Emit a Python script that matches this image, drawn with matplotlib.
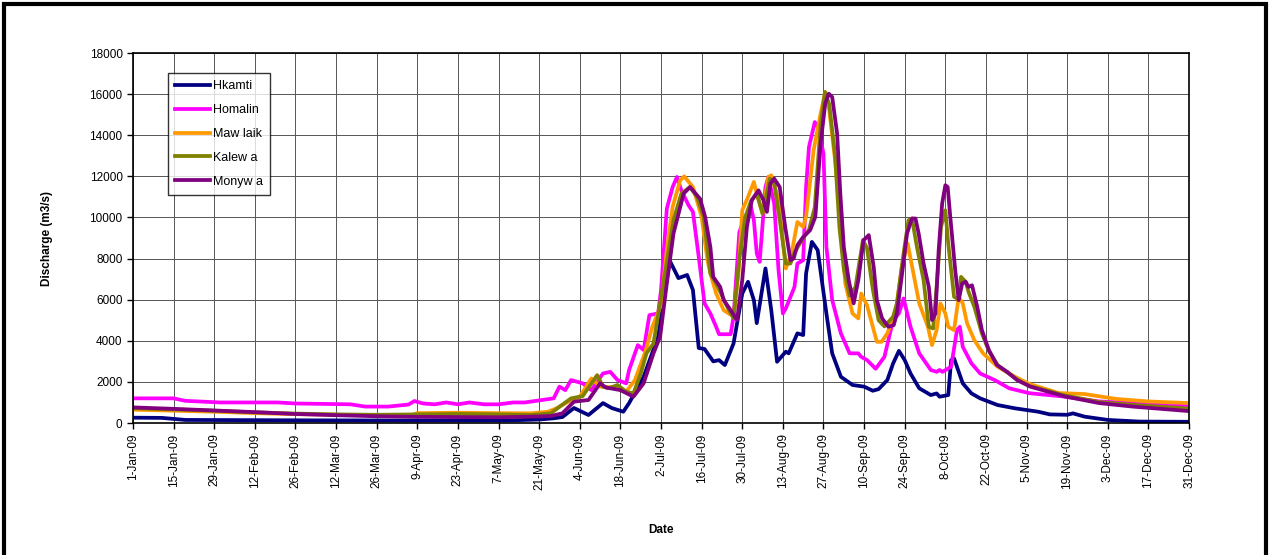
import pandas as pd
import matplotlib
matplotlib.use("Agg")
import matplotlib.pyplot as plt
from matplotlib.patches import Rectangle

plt.rcParams["font.family"] = ["Liberation Sans", "DejaVu Sans"]

# day of year (0 = 1-Jan-09) and discharge (m3/s)
hkamti_day = [0, 10, 18, 60, 100, 130, 140, 145, 148, 152, 157, 162, 165, 169, 171, 176, 181, 185, 188, 191, 193,
              195, 197, 200, 202, 204, 207, 210, 212, 214, 215, 218, 220, 222, 225, 226, 229, 231, 232, 234, 236,
              239, 241, 244, 248, 252, 255, 257, 260, 262, 264, 266, 268, 271, 275, 277, 278, 281, 282, 283, 286,
              289, 292, 298, 304, 312, 316, 322, 324, 328, 336, 347, 364]
hkamti_q = [260, 250, 150, 130, 120, 130, 170, 230, 290, 730, 390, 970, 730, 550, 970, 2250, 4200, 7900, 7050, 7200,
            6470, 3650, 3600, 3000, 3060, 2820, 3870, 6300, 6870, 5980, 4860, 7520, 5490, 2980, 3470, 3390, 4360,
            4280, 7280, 8810, 8410, 5330, 3390, 2250, 1850, 1770, 1570, 1650, 2090, 2900, 3510, 3060, 2410, 1690,
            1360, 1440, 1280, 1360, 3060, 3140, 1930, 1440, 1200, 875, 715, 550, 420, 400, 470, 310, 150, 70, 60]

homalin_day = [0, 14, 18, 30, 50, 56, 75, 80, 88, 95, 97, 100, 104, 108, 112, 116, 121, 126, 131, 135, 141, 145,
               147, 149, 151, 155, 158, 162, 164.5, 167, 170, 171, 174, 176, 178, 181, 182, 184, 186, 187.5, 189,
               191.5, 193, 195, 197, 199, 201, 202, 206, 207, 209, 211, 213, 214, 215, 216, 218, 219, 221, 222.5,
               224, 225, 228, 229, 231, 232, 233, 235, 236, 238, 239, 241, 244, 247, 250, 251, 253, 256, 259, 262,
               264, 265.6, 268, 271, 275, 277, 278, 279, 282, 284, 285, 286, 289, 292, 297, 302, 309, 320, 333,
               345, 364]
homalin_q = [1200, 1200, 1080, 1000, 1000, 950, 910, 800, 800, 900, 1070, 950, 910, 1000, 910, 1000, 910, 910, 1000,
             1000, 1120, 1200, 1770, 1600, 2090, 1930, 1600, 2410, 2490, 2090, 1930, 2580, 3790, 3550, 5250, 5330,
             6470, 10430, 11480, 11970, 11320, 10590, 10270, 8080, 5820, 5330, 4680, 4320, 4320, 5170, 9300, 10030,
             10510, 9870, 8250, 7840, 11480, 11970, 10680, 7440, 5330, 5570, 6620, 7760, 7920, 11480, 13430, 14640,
             14400, 13110, 8570, 5980, 4360, 3390, 3390, 3220, 3060, 2640, 3220, 5010, 5330, 6060, 4680, 3390, 2580,
             2490, 2580, 2490, 2740, 4520, 4680, 3710, 2900, 2410, 2090, 1690, 1450, 1300, 1050, 970, 850]

mawlaik_day = [0, 14, 28, 42, 56, 70, 84, 96, 98, 112, 126, 137, 143, 146, 150, 154, 158, 161, 166, 170, 173,
               176.6, 179, 182, 184, 186, 188.6, 190, 193, 196, 198, 199, 201, 203.6, 207, 208.7, 210, 212, 214,
               215, 217, 219, 220, 222.5, 225, 227, 229, 231, 232, 234.6, 237, 238.6, 240, 242, 244, 245.5, 248,
               250, 251, 253, 255, 256.4, 258, 260, 263, 265, 267, 269, 271, 274, 275.4, 277, 278.3, 280, 281, 283,
               284.6, 286, 287.5, 290, 293, 298, 304, 309, 319, 328, 339, 350, 364]
mawlaik_q = [650, 600, 550, 480, 430, 400, 380, 380, 480, 500, 480, 470, 550, 715, 1040, 1280, 2170, 1770, 1730,
             1520, 2090, 3470, 4680, 5730, 8410, 10510, 11810, 12000, 11480, 10030, 7920, 7280, 6300, 5490, 5170,
             7280, 10350, 11000, 11730, 11160, 10190, 11970, 12050, 10840, 7520, 8250, 9780, 9540, 10030, 13270,
             15050, 16100, 15210, 12780, 9540, 6790, 5330, 5090, 6300, 5730, 4680, 3950, 3950, 4360, 5490, 7600,
             8730, 7280, 5820, 4680, 3790, 4520, 5820, 5330, 4680, 4520, 6140, 5820, 4850, 4030, 3390, 2740, 2250,
             1900, 1460, 1410, 1170, 1050, 970]

kalewa_day = [0, 14, 28, 42, 56, 70, 84, 98, 112, 126, 137, 144, 147, 151, 155, 158, 160, 162, 164, 167, 170,
              172.5, 175, 177, 179.4, 181, 184, 186.3, 189, 192, 194.4, 196.7, 199, 201, 203, 205, 207, 209, 211,
              213, 215, 217, 219.5, 221, 223, 225, 226.6, 228, 231, 233, 235, 237, 238.5, 240, 242, 243.5, 245,
              247, 249, 251.6, 253, 255, 257, 259, 262, 263.3, 265.6, 267.3, 268.5, 270.2, 272.5, 274.3, 275.8,
              277, 278.5, 280, 281, 283, 284.6, 285.4, 287, 288, 290, 292.6, 295, 298, 301, 305, 309, 321, 333,
              345, 364]
kalewa_q = [720, 660, 600, 520, 460, 420, 400, 420, 440, 420, 390, 470, 790, 1200, 1310, 1930, 2330, 1770, 1690,
            1850, 1520, 1440, 2410, 3390, 3870, 5250, 7840, 9870, 11160, 11480, 11000, 10030, 7280, 6790, 6200,
            5600, 5100, 8000, 10000, 10800, 11160, 10190, 11890, 11700, 9800, 7760, 7760, 8300, 9000, 9400, 10500,
            14500, 16100, 15500, 13000, 9500, 7500, 6200, 6600, 8900, 8500, 6500, 5000, 4700, 5170, 5820, 8250,
            9870, 9950, 8570, 6950, 4680, 4600, 6620, 9540, 10350, 8730, 6140, 6000, 7110, 6870, 6380, 5650, 4360,
            3500, 2820, 2500, 2090, 1800, 1350, 1020, 880, 700]

monywa_day = [0, 14, 28, 42, 56, 70, 84, 98, 112, 126, 137, 144, 148, 152, 157, 161, 163, 168, 172.5, 176, 179.4,
              181.7, 184, 186.3, 189.8, 192, 195.5, 197.2, 199, 200, 202.4, 203.6, 206, 208.2, 210, 211.6, 213.3,
              215.6, 217.3, 218.5, 219.7, 221, 222.9, 224.8, 226.6, 227.7, 229, 231, 233.4, 235.2, 237, 238.6,
              239.8, 241, 242.7, 243.8, 245, 246.7, 248.4, 250, 251.8, 253.6, 255.3, 256.4, 258.2, 260.4, 262.2,
              263.3, 265.1, 266.8, 268.5, 269.7, 270.8, 272.5, 274.3, 275.4, 276.6, 277.7, 278.9, 280, 280.8,
              281.7, 283.4, 284.6, 285.8, 287, 288, 289.2, 291, 292.6, 295, 297.8, 301.3, 304.7, 309.3, 321, 333,
              344.5, 364]
monywa_q = [760, 690, 610, 530, 440, 380, 330, 300, 290, 280, 310, 340, 470, 1040, 1120, 1930, 1730, 1600, 1280,
            1930, 3390, 4200, 6790, 9220, 11160, 11480, 10900, 10030, 8570, 7110, 6620, 5980, 5490, 5010, 6950,
            9540, 10840, 11320, 10840, 10270, 11650, 11890, 11480, 9540, 7920, 8000, 8650, 9050, 9380, 10030,
            13590, 15540, 16020, 15860, 14080, 11160, 8570, 6950, 5820, 6950, 8890, 9140, 7600, 5980, 5090, 4680,
            4760, 5330, 7280, 9220, 9950, 9950, 9220, 7760, 6620, 5010, 5330, 8410, 10680, 11570, 11480, 10030,
            7440, 5980, 6790, 6870, 6620, 6700, 5650, 4520, 3550, 2820, 2490, 2090, 1770, 1300, 970, 800, 580]

series = [
    ("Hkamti", hkamti_day, hkamti_q, "#000080"),
    ("Homalin", homalin_day, homalin_q, "#FF00FF"),
    ("Maw laik", mawlaik_day, mawlaik_q, "#FF9900"),
    ("Kalew a", kalewa_day, kalewa_q, "#808000"),
    ("Monyw a", monywa_day, monywa_q, "#800080"),
]

tick_days = list(range(0, 365, 14))
tick_dates = pd.Timestamp("2009-01-01") + pd.to_timedelta(tick_days, unit="D")
tick_labels = [f"{d.day}-{d.strftime('%b-%y')}" for d in tick_dates]

fig = plt.figure(figsize=(12.69, 5.55), dpi=100)
ax = fig.add_axes([0.1048, 0.2378, 0.8322, 0.6667])

for name, days, q, color in series:
    ax.plot(days, q, color=color, lw=2.7, label=name, solid_joinstyle="round")

ax.set_xlim(0, 364)
ax.set_ylim(0, 18000)
ax.set_yticks(range(0, 18001, 2000))
ax.set_xticks(tick_days)
ax.set_xticklabels(tick_labels, rotation=90, fontsize=8.5)
ax.tick_params(axis="y", labelsize=8.5, length=4, width=1)
ax.tick_params(axis="x", length=4, width=1)
ax.grid(True, color="#555555", lw=0.7)
ax.set_axisbelow(True)
for sp in ax.spines.values():
    sp.set_linewidth(1.2)

ax.set_ylabel("Discharge (m3/s)", fontsize=8.5, fontweight="bold", labelpad=26)
ax.set_xlabel("Date", fontsize=8.5, fontweight="bold", labelpad=25)

leg = ax.legend(loc="upper left", bbox_to_anchor=(0.027, 0.962), fontsize=9, frameon=True,
                fancybox=False, edgecolor="black", handlelength=2.8, labelspacing=0.95,
                borderpad=0.55, handletextpad=0.3)
leg.get_frame().set_linewidth(1.0)

# outer chart-area border
fig.patches.append(Rectangle((0.003, -0.05), 0.995, 1.042, transform=fig.transFigure,
                             fill=False, edgecolor="black", lw=3))

fig.savefig("out.png", dpi=100)
